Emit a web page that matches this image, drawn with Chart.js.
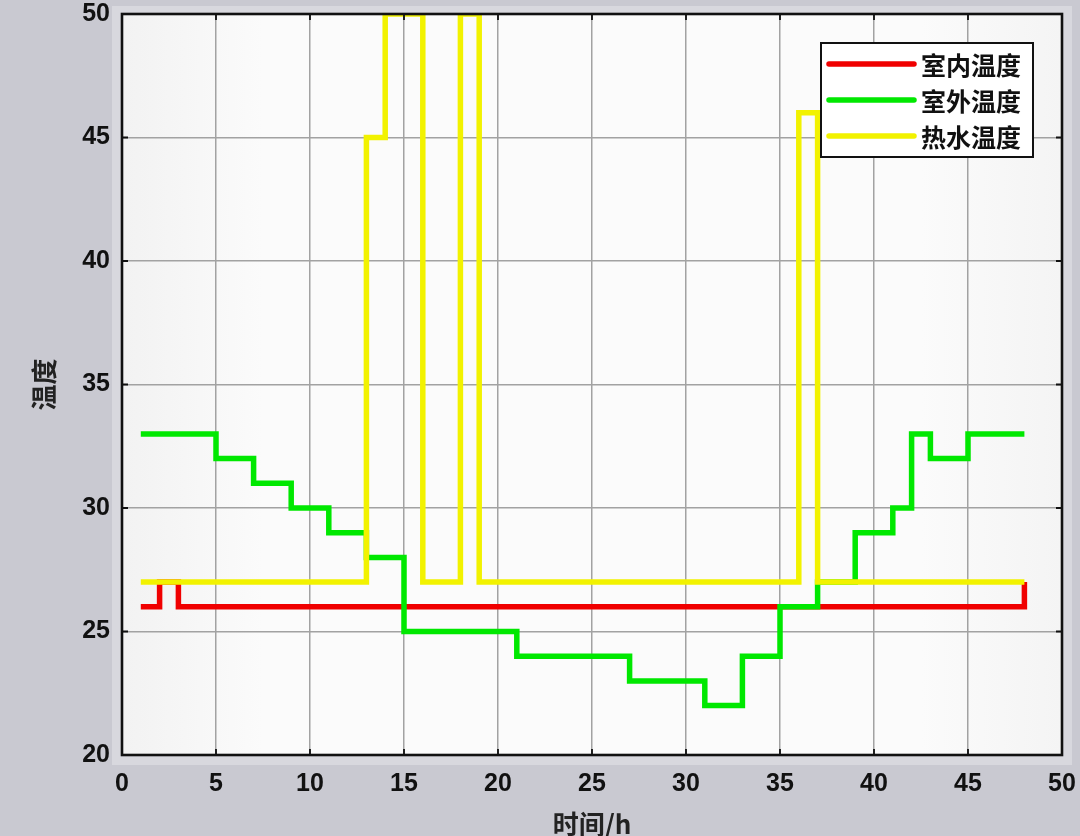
<!DOCTYPE html>
<html>
<head>
<meta charset="utf-8">
<script src="https://cdn.jsdelivr.net/npm/chart.js@4/dist/chart.umd.min.js"></script>
<style>
  html, body { margin: 0; padding: 0; background: #c9c9d1; }
  #wrap { width: 1080px; height: 836px; position: relative; }
</style>
</head>
<body>
<div id="wrap"><canvas id="c" width="1080" height="836"></canvas></div>
<script>
const hours = [1,2,3,4,5,6,7,8,9,10,11,12,13,14,15,16,17,18,19,20,21,22,23,24,25,26,27,28,29,30,31,32,33,34,35,36,37,38,39,40,41,42,43,44,45,46,47,48];
const indoorTemp = [26,27,26,26,26,26,26,26,26,26,26,26,26,26,26,26,26,26,26,26,26,26,26,26,26,26,26,26,26,26,26,26,26,26,26,26,26,26,26,26,26,26,26,26,26,26,26,27];
const outdoorTemp = [33,33,33,33,32,32,31,31,30,30,29,29,28,28,25,25,25,25,25,25,24,24,24,24,24,24,23,23,23,23,22,22,24,24,26,26,27,27,29,29,30,33,32,32,33,33,33,33];
const hotWaterTemp = [27,27,27,27,27,27,27,27,27,27,27,27,45,50,50,27,27,50,27,27,27,27,27,27,27,27,27,27,27,27,27,27,27,27,27,46,27,27,27,27,27,27,27,27,27,27,27,27];
const seriesNames = ['室内温度', '室外温度', '热水温度'];
const xTicks = [0,5,10,15,20,25,30,35,40,45,50];
const yTicks = [20,25,30,35,40,45,50];
const xTitle = '时间/h';
const yTitle = '温度';

const colors = ['#f00000', '#00e800', '#f2f200'];

function pts(vals) { return hours.map((h, i) => ({x: h, y: vals[i]})); }

const bgPlugin = {
  id: 'bg',
  beforeDraw(chart) {
    const {ctx, chartArea: a} = chart;
    ctx.save();
    ctx.fillStyle = '#c9c9d1';
    ctx.fillRect(0, 0, chart.width, chart.height);
    ctx.fillStyle = '#d8d8de';
    ctx.fillRect(a.left - 10, a.top - 8, a.right - a.left + 20, a.bottom - a.top + 18);
    const g = ctx.createLinearGradient(a.left, 0, a.right, 0);
    g.addColorStop(0, '#f2f2f2');
    g.addColorStop(0.15, '#fbfbfb');
    g.addColorStop(0.85, '#fbfbfb');
    g.addColorStop(1, '#f4f4f4');
    ctx.fillStyle = g;
    ctx.fillRect(a.left, a.top, a.right - a.left, a.bottom - a.top);
    ctx.restore();
  },
  afterDatasetsDraw(chart) {
    const {ctx, chartArea: a, scales} = chart;
    ctx.save();
    ctx.strokeStyle = '#111';
    ctx.lineWidth = 1.8;
    const tl = 6;
    ctx.beginPath();
    xTicks.forEach(v => {
      const px = scales.x.getPixelForValue(v);
      ctx.moveTo(px, a.bottom); ctx.lineTo(px, a.bottom - tl);
      ctx.moveTo(px, a.top); ctx.lineTo(px, a.top + tl);
    });
    yTicks.forEach(v => {
      const py = scales.y.getPixelForValue(v);
      ctx.moveTo(a.left, py); ctx.lineTo(a.left + tl, py);
      ctx.moveTo(a.right, py); ctx.lineTo(a.right - tl, py);
    });
    ctx.stroke();
    ctx.lineWidth = 2.6;
    ctx.strokeRect(a.left, a.top, a.right - a.left, a.bottom - a.top);

    // legend
    const lx = 821, ly = 43, lw = 212, lh = 114;
    ctx.fillStyle = '#ffffff';
    ctx.fillRect(lx, ly, lw, lh);
    ctx.lineWidth = 2;
    ctx.strokeStyle = '#111';
    ctx.strokeRect(lx, ly, lw, lh);
    const rows = [64, 100, 136];
    ctx.font = 'bold 25px "Noto Sans CJK SC"';
    ctx.textBaseline = 'middle';
    ctx.textAlign = 'left';
    chart.data.datasets.forEach((ds, i) => {
      ctx.strokeStyle = ds.borderColor;
      ctx.lineWidth = 5.5;
      ctx.lineCap = 'round';
      ctx.beginPath();
      ctx.moveTo(829, rows[i]); ctx.lineTo(914, rows[i]);
      ctx.stroke();
      ctx.fillStyle = '#111';
      ctx.fillText(ds.label, 921, rows[i] + 1);
    });
    ctx.restore();
  }
};

new Chart(document.getElementById('c'), {
  type: 'line',
  data: {
    datasets: [
      {label: seriesNames[0], data: pts(indoorTemp), borderColor: colors[0], order: 2},
      {label: seriesNames[1], data: pts(outdoorTemp), borderColor: colors[1], order: 1},
      {label: seriesNames[2], data: pts(hotWaterTemp), borderColor: colors[2], order: 0}
    ].map(d => Object.assign(d, {stepped: 'before', borderWidth: 5.5, pointRadius: 0, fill: false, tension: 0, borderJoinStyle: 'miter', borderCapStyle: 'butt'}))
  },
  plugins: [bgPlugin],
  options: {
    responsive: false,
    animation: false,
    devicePixelRatio: 1,
    layout: { padding: { top: 14, right: 18, left: 0, bottom: 0 } },
    plugins: { legend: { display: false }, tooltip: { enabled: false } },
    scales: {
      x: {
        type: 'linear', min: 0, max: 50,
        afterBuildTicks(s) { s.ticks = xTicks.map(v => ({value: v})); },
        afterFit(s) { s.height = 81; s.paddingLeft = 0; s.paddingRight = 0; },
        grid: { color: '#a2a2a2', lineWidth: 1.5, drawTicks: false },
        border: { display: false },
        ticks: { padding: 14, color: '#111', font: { family: '"Liberation Sans", Arial, sans-serif', size: 25, weight: 'bold' }, maxRotation: 0 },
        title: { display: true, text: xTitle, color: '#222', font: { family: '"Noto Sans CJK SC"', size: 26, weight: 'bold', lineHeight: 0.9 }, padding: { top: 0, bottom: 0 } }
      },
      y: {
        type: 'linear', min: 20, max: 50,
        afterBuildTicks(s) { s.ticks = yTicks.map(v => ({value: v})); },
        afterFit(s) { s.width = 122; s.paddingTop = 0; s.paddingBottom = 0; },
        grid: { color: '#a2a2a2', lineWidth: 1.5, drawTicks: false },
        border: { display: false },
        ticks: { padding: 12, color: '#111', font: { family: '"Liberation Sans", Arial, sans-serif', size: 25, weight: 'bold' } },
        title: { display: true, text: yTitle, color: '#222', font: { family: '"Noto Sans CJK SC"', size: 26, weight: 'bold', lineHeight: 1.2 }, padding: { top: 29, bottom: 0 } }
      }
    }
  }
});
</script>
</body>
</html>
